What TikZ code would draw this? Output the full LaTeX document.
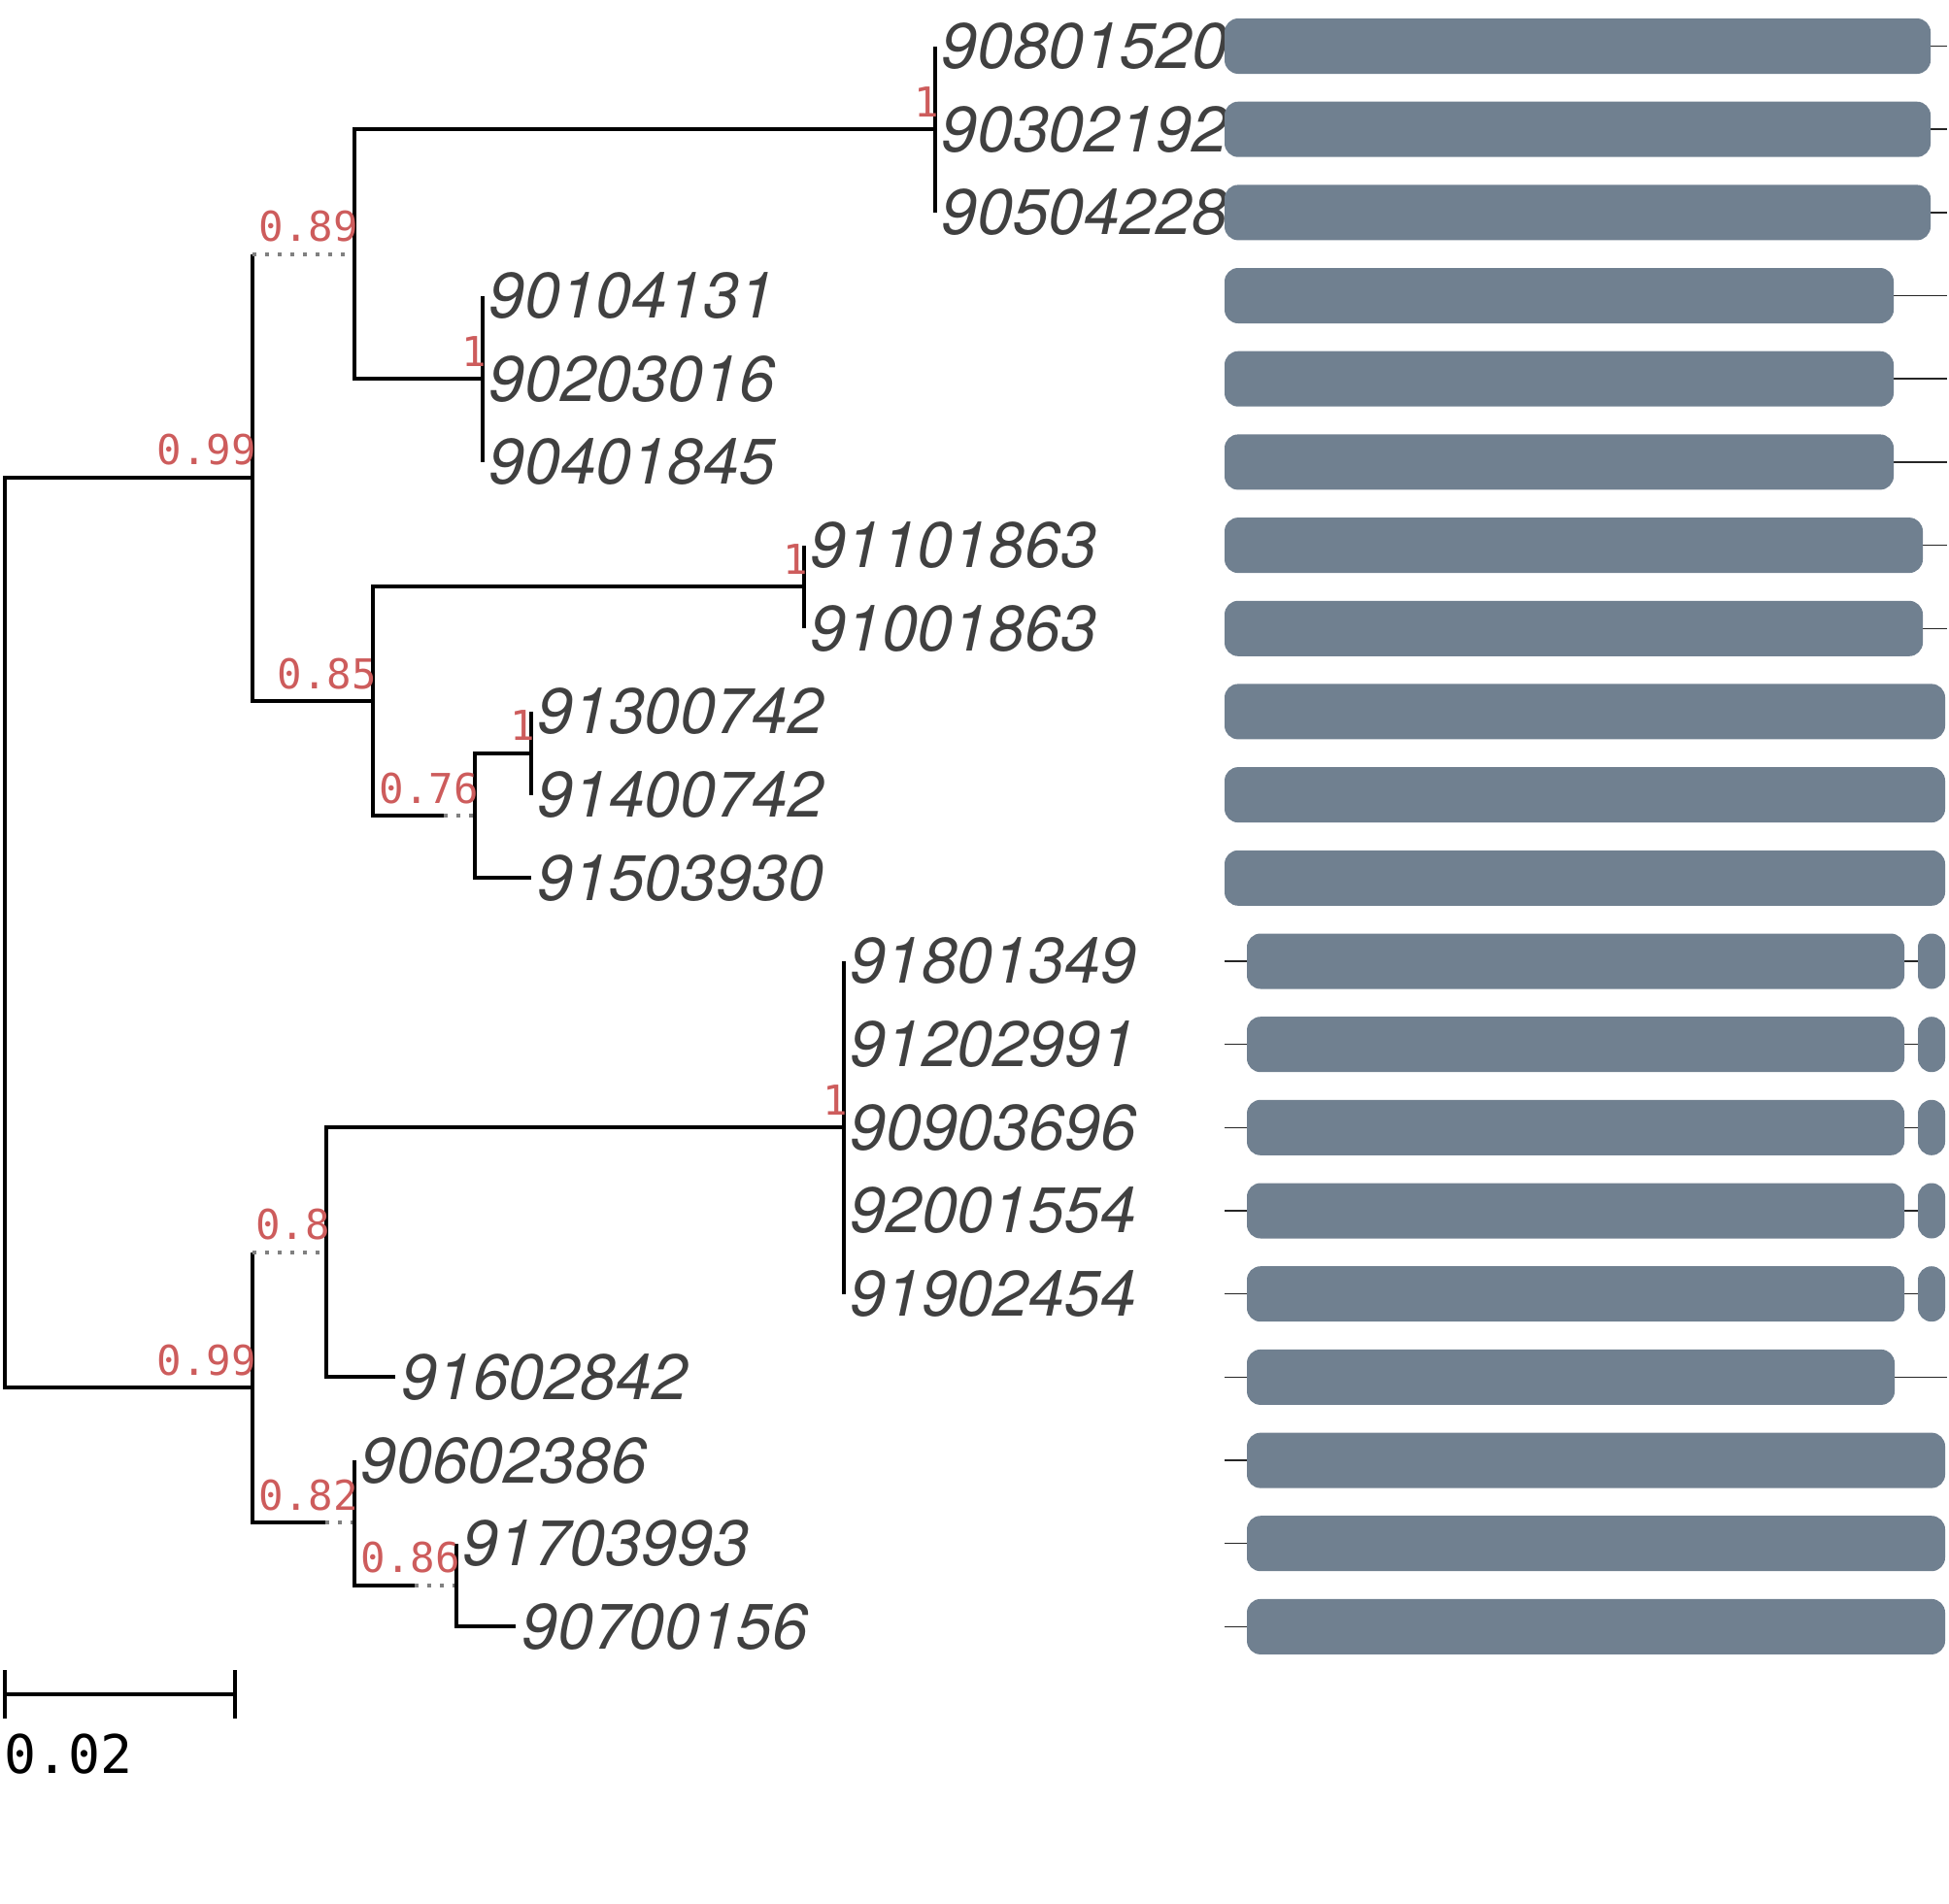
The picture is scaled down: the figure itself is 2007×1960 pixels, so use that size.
\documentclass[tikz,border=0pt]{standalone}
\usepackage{fontspec}
\setmainfont{TeX Gyre Heros}
\newfontfamily\monofnt{DejaVu Sans Mono}
\definecolor{leafc}{RGB}{64,64,64}
\definecolor{supc}{RGB}{205,92,92}
\definecolor{barc}{RGB}{112,128,144}
\definecolor{dotc}{RGB}{128,128,128}
\tikzset{
  edge/.style={line width=2pt, black},
  dotbr/.style={line width=2pt, dotc, dash pattern=on 2pt off 4.5pt},
  leaf/.style={anchor=west, inner sep=0pt, xshift=3pt, text=leafc,
    font=\fontsize{33.1}{36}\selectfont\itshape},
  sup/.style={anchor=base east, inner sep=0pt, xshift=2pt, yshift=6.5pt, text=supc,
    font=\fontsize{21.2}{24}\selectfont\monofnt},
  gbar/.style={fill=barc, rounded corners=7pt},
  thinln/.style={line width=0.75pt, black!85}
}
\begin{document}
\begin{tikzpicture}[x=0.5pt,y=-0.5pt]
\useasboundingbox (0,0) rectangle (2007,1960);
% internal nodes
\coordinate (R) at (5,960.5);
\coordinate (A) at (260,491.9);
\coordinate (B) at (365,261.7);
\coordinate (C) at (963,133.2);
\coordinate (D) at (497,390.2);
\coordinate (E) at (384,722.2);
\coordinate (F) at (828,604.4);
\coordinate (G) at (489,840.1);
\coordinate (H) at (547,775.8);
\coordinate (I) at (260,1429.1);
\coordinate (J) at (336,1289.9);
\coordinate (K) at (869,1161.3);
\coordinate (L) at (365,1568.3);
\coordinate (M) at (470,1632.6);
\coordinate (g0) at (457,840.1);
\coordinate (l0) at (335,1568.3);
\coordinate (m0) at (427,1632.6);
% tips
\coordinate (t1) at (963,47.5);
\coordinate (t2) at (963,133.2);
\coordinate (t3) at (963,218.9);
\coordinate (t4) at (497,304.5);
\coordinate (t5) at (497,390.2);
\coordinate (t6) at (497,475.9);
\coordinate (t7) at (828,561.6);
\coordinate (t8) at (828,647.3);
\coordinate (t9) at (547,732.9);
\coordinate (t10) at (547,818.6);
\coordinate (t11) at (547,904.3);
\coordinate (t12) at (869,990.0);
\coordinate (t13) at (869,1075.7);
\coordinate (t14) at (869,1161.3);
\coordinate (t15) at (869,1247.0);
\coordinate (t16) at (869,1332.7);
\coordinate (t17) at (407,1418.4);
\coordinate (t18) at (365,1504.1);
\coordinate (t19) at (470,1589.7);
\coordinate (t20) at (531,1675.4);
% branches
\draw[edge] (R) |- (A);
\draw[edge] (R) |- (I);
\draw[edge] (A) -- (A|-B);
\draw[dotbr] (A|-B) -- (B);
\draw[edge] (A) |- (E);
\draw[edge] (B) |- (C);
\draw[edge] (B) |- (D);
\draw[edge] (C) |- (t1);
\draw[edge] (C) |- (t2);
\draw[edge] (C) |- (t3);
\draw[edge] (D) |- (t4);
\draw[edge] (D) |- (t5);
\draw[edge] (D) |- (t6);
\draw[edge] (E) |- (F);
\draw[edge] (E) |- (g0);
\draw[dotbr] (g0) -- (G);
\draw[edge] (F) |- (t7);
\draw[edge] (F) |- (t8);
\draw[edge] (G) |- (H);
\draw[edge] (G) |- (t11);
\draw[edge] (H) |- (t9);
\draw[edge] (H) |- (t10);
\draw[edge] (I) -- (I|-J);
\draw[dotbr] (I|-J) -- (J);
\draw[edge] (I) |- (l0);
\draw[dotbr] (l0) -- (L);
\draw[edge] (J) |- (K);
\draw[edge] (J) |- (t17);
\draw[edge] (K) |- (t12);
\draw[edge] (K) |- (t13);
\draw[edge] (K) |- (t14);
\draw[edge] (K) |- (t15);
\draw[edge] (K) |- (t16);
\draw[edge] (L) |- (t18);
\draw[edge] (L) |- (m0);
\draw[dotbr] (m0) -- (M);
\draw[edge] (M) |- (t19);
\draw[edge] (M) |- (t20);
% support values
\node[sup] (sA) at (A) {0.99};
\node[sup] (sB) at (B) {0.89};
\node[sup] (sC) at (C) {1};
\node[sup] (sD) at (D) {1};
\node[sup] (sE) at (E) {0.85};
\node[sup] (sF) at (F) {1};
\node[sup] (sG) at (G) {0.76};
\node[sup] (sH) at (H) {1};
\node[sup] (sI) at (I) {0.99};
\node[sup] (sJ) at (J) {0.8};
\node[sup] (sK) at (K) {1};
\node[sup] (sL) at (L) {0.82};
\node[sup] (sM) at (M) {0.86};
% leaf labels
\node[leaf] (l1) at (t1) {90801520};
\node[leaf] (l2) at (t2) {90302192};
\node[leaf] (l3) at (t3) {90504228};
\node[leaf] (l4) at (t4) {90104131};
\node[leaf] (l5) at (t5) {90203016};
\node[leaf] (l6) at (t6) {90401845};
\node[leaf] (l7) at (t7) {91101863};
\node[leaf] (l8) at (t8) {91001863};
\node[leaf] (l9) at (t9) {91300742};
\node[leaf] (l10) at (t10) {91400742};
\node[leaf] (l11) at (t11) {91503930};
\node[leaf] (l12) at (t12) {91801349};
\node[leaf] (l13) at (t13) {91202991};
\node[leaf] (l14) at (t14) {90903696};
\node[leaf] (l15) at (t15) {92001554};
\node[leaf] (l16) at (t16) {91902454};
\node[leaf] (l17) at (t17) {91602842};
\node[leaf] (l18) at (t18) {90602386};
\node[leaf] (l19) at (t19) {91703993};
\node[leaf] (l20) at (t20) {90700156};
% scale bar
\coordinate (s1) at (5,1745);
\coordinate (s2) at (242,1745);
\draw[edge] (s1) -- (s2);
\draw[edge] ([yshift=12.5pt]s1) -- ([yshift=-12.5pt]s1);
\draw[edge] ([yshift=12.5pt]s2) -- ([yshift=-12.5pt]s2);
\node[anchor=base west, inner sep=0pt, font=\fontsize{27.4}{30}\selectfont\monofnt] (sl) at (4,1826) {0.02};
% domain bars
\foreach \y in {47.5,133.2,218.9} {
  \draw[thinln] (1960,\y) -- (2005,\y);
  \fill[gbar] (1261,\y-28.5) rectangle (1988,\y+28.5);
}
\foreach \y in {304.5,390.2,475.9} {
  \draw[thinln] (1930,\y) -- (2005,\y);
  \fill[gbar] (1261,\y-28.5) rectangle (1950,\y+28.5);
}
\foreach \y in {561.6,647.3} {
  \draw[thinln] (1960,\y) -- (2005,\y);
  \fill[gbar] (1261,\y-28.5) rectangle (1980,\y+28.5);
}
\foreach \y in {732.9,818.6,904.3} {
  \fill[gbar] (1261,\y-28.5) rectangle (2003,\y+28.5);
}
\foreach \y in {990.0,1075.7,1161.3,1247.0,1332.7} {
  \draw[thinln] (1261,\y) -- (1295,\y);
  \draw[thinln] (1950,\y) -- (1985,\y);
  \fill[gbar] (1284,\y-28.5) rectangle (1961,\y+28.5);
  \fill[gbar] (1975,\y-28.5) rectangle (2003,\y+28.5);
}
\foreach \y in {1418.4} {
  \draw[thinln] (1261,\y) -- (1295,\y);
  \draw[thinln] (1940,\y) -- (2005,\y);
  \fill[gbar] (1284,\y-28.5) rectangle (1951,\y+28.5);
}
\foreach \y in {1504.1,1589.7,1675.4} {
  \draw[thinln] (1261,\y) -- (1295,\y);
  \fill[gbar] (1284,\y-28.5) rectangle (2003,\y+28.5);
}
\end{tikzpicture}
\end{document}
